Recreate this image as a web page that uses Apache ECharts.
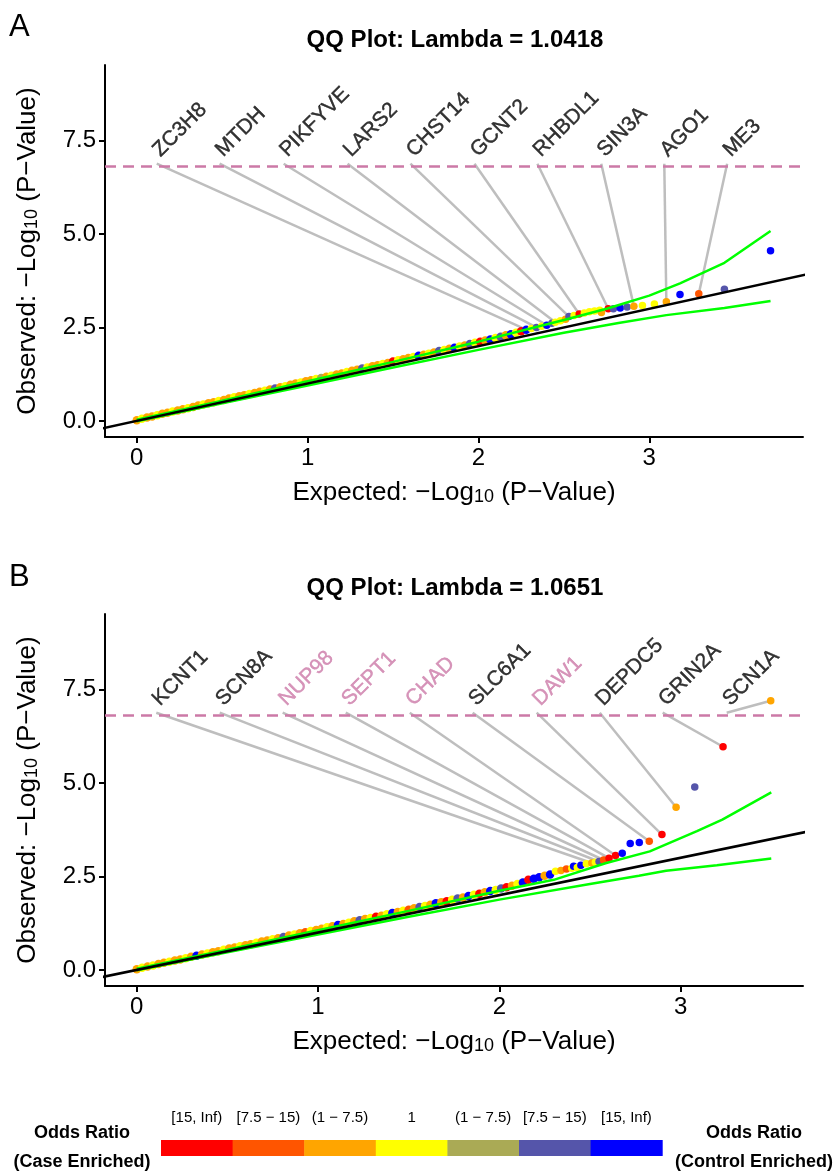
<!DOCTYPE html>
<html>
<head>
<meta charset="utf-8">
<script src="https://cdn.jsdelivr.net/npm/echarts@6/dist/echarts.min.js"></script>
<style>
  html, body { margin: 0; padding: 0; background: #fff; }
  #chart { width: 836px; height: 1174px; }
</style>
</head>
<body>
<div id="chart"></div>
<script>
const FONT = 'Liberation Sans, Arial, Helvetica, sans-serif';

// odds ratio bins (case enriched -> control enriched)
const orLabels = ['[15, Inf)', '[7.5 − 15)', '(1 − 7.5)', '1', '(1 − 7.5)', '[7.5 − 15)', '[15, Inf)'];
const orColors = ['#FF0000', '#FF5500', '#FFA500', '#FFFF00', '#AAAA55', '#5555AA', '#0000FF'];

const titleA = 'QQ Plot: Lambda = 1.0418';
const titleB = 'QQ Plot: Lambda = 1.0651';
const sigLine = 6.82;          // -log10 significance threshold
const xTicks = [0, 1, 2, 3];
const yTicks = [0, 2.5, 5, 7.5];
const diag = [-1, 5];          // y = x reference line ends

// panel A points: [expected, observed, OR bin]
const pointsA = [
  [0.00,0.02,2],[0.03,0.06,3],[0.06,0.09,2],[0.09,0.12,2],[0.12,0.15,3],[0.15,0.19,2],
  [0.18,0.22,2],[0.21,0.25,3],[0.24,0.28,2],[0.27,0.31,2],[0.30,0.34,3],[0.33,0.37,2],
  [0.36,0.41,2],[0.39,0.44,3],[0.42,0.47,2],[0.45,0.50,2],[0.48,0.53,3],[0.51,0.56,2],
  [0.54,0.60,2],[0.57,0.63,3],[0.60,0.66,2],[0.63,0.69,2],[0.66,0.72,3],[0.69,0.75,2],
  [0.72,0.78,2],[0.75,0.81,3],[0.78,0.84,2],[0.81,0.87,5],[0.84,0.90,2],[0.87,0.93,3],
  [0.90,0.97,2],[0.93,1.00,2],[0.96,1.03,3],[0.99,1.06,2],[1.02,1.09,2],[1.05,1.12,3],
  [1.08,1.15,4],[1.11,1.18,2],[1.14,1.21,3],[1.17,1.24,2],[1.20,1.27,2],[1.23,1.31,3],
  [1.26,1.34,2],[1.29,1.37,2],[1.32,1.40,5],[1.35,1.43,3],[1.38,1.46,2],[1.41,1.49,2],
  [1.44,1.52,3],[1.47,1.55,2],[1.50,1.59,0],[1.53,1.62,3],[1.56,1.65,2],[1.59,1.68,2],
  [1.62,1.71,3],[1.65,1.74,6],[1.68,1.77,2],[1.71,1.80,3],[1.74,1.83,2],[1.77,1.87,5],
  [1.80,1.90,3],[1.83,1.93,2],[1.86,1.96,6],[1.89,1.99,3],[1.92,2.02,2],[1.95,2.06,5],
  [1.98,2.09,3],[2.01,2.12,0],[2.04,2.15,2],[2.07,2.18,6],[2.10,2.22,3],[2.13,2.25,5],
  [2.16,2.29,2],[2.19,2.32,6],[2.22,2.36,3],[2.25,2.40,0],[2.28,2.44,6],
  [2.31,2.47,3],[2.34,2.50,5],[2.37,2.53,3],[2.40,2.56,6],[2.43,2.61,5],[2.45,2.64,3],
  [2.48,2.68,3],[2.51,2.72,2],[2.53,2.79,5],[2.56,2.82,3],[2.59,2.86,0],[2.62,2.89,3],
  [2.65,2.92,3],[2.68,2.94,3],[2.71,2.96,3],[2.72,2.90,2],[2.76,3.00,0],[2.79,3.00,5],
  [2.83,3.02,6],[2.87,3.05,5],[2.91,3.07,2],[2.96,3.09,3],[3.03,3.13,3],[3.10,3.19,2],
  [3.18,3.38,6],[3.29,3.40,1],[3.44,3.52,5],[3.71,4.55,6]
];

// panel B points: [expected, observed, OR bin]
const pointsB = [
  [0.00,0.02,2],[0.03,0.06,3],[0.06,0.09,2],[0.09,0.12,3],[0.12,0.16,2],[0.15,0.19,2],
  [0.18,0.22,3],[0.21,0.25,2],[0.24,0.28,2],[0.27,0.31,3],[0.30,0.35,2],[0.33,0.38,6],
  [0.36,0.41,2],[0.39,0.44,3],[0.42,0.47,2],[0.45,0.50,2],[0.48,0.54,3],[0.51,0.57,2],
  [0.54,0.60,2],[0.57,0.63,3],[0.60,0.66,2],[0.63,0.69,2],[0.66,0.73,3],[0.69,0.76,2],
  [0.72,0.79,2],[0.75,0.82,3],[0.78,0.85,2],[0.81,0.88,5],[0.84,0.92,2],[0.87,0.95,3],
  [0.90,0.98,2],[0.93,1.01,1],[0.96,1.04,3],[0.99,1.07,2],[1.02,1.10,2],[1.05,1.14,3],
  [1.08,1.17,2],[1.11,1.20,6],[1.14,1.23,2],[1.17,1.26,3],[1.20,1.30,2],[1.23,1.33,5],
  [1.26,1.36,2],[1.29,1.39,3],[1.32,1.42,0],[1.35,1.45,2],[1.38,1.49,3],[1.41,1.52,6],
  [1.44,1.55,2],[1.47,1.58,3],[1.50,1.61,1],[1.53,1.65,2],[1.56,1.68,5],[1.59,1.71,3],
  [1.62,1.74,2],[1.65,1.78,6],[1.68,1.81,2],[1.71,1.84,0],[1.74,1.88,3],[1.77,1.91,5],
  [1.80,1.94,2],[1.83,1.98,6],[1.86,2.01,3],[1.89,2.04,0],[1.92,2.08,2],[1.95,2.11,6],
  [1.98,2.14,3],[2.01,2.18,5],[2.04,2.21,0],[2.07,2.25,2],
  [2.10,2.30,3],[2.13,2.34,6],[2.16,2.41,0],[2.19,2.44,6],[2.22,2.48,6],[2.25,2.52,2],
  [2.28,2.55,6],[2.31,2.64,3],[2.34,2.66,2],[2.37,2.70,1],[2.40,2.72,3],[2.41,2.77,6],
  [2.43,2.74,3],[2.45,2.80,6],[2.48,2.84,3],[2.51,2.86,2],[2.53,2.88,3],[2.55,2.90,5],
  [2.575,2.94,1],[2.605,2.99,0],[2.641,3.06,0],[2.678,3.12,6],[2.722,3.38,6],[2.772,3.41,6],
  [2.827,3.44,1],[2.897,3.62,0],[2.975,4.35,2],[3.078,4.89,5],[3.234,5.97,0],[3.497,7.20,2]
];

// 95% confidence band
const upperAx = [0, 0.5, 1.0, 1.5, 2.0, 2.5, 2.75, 3.0, 3.18, 3.44, 3.71];
const upperAy = [0.03, 0.54, 1.06, 1.58, 2.12, 2.70, 3.0, 3.35, 3.68, 4.23, 5.08];
const lowerAx = [0, 0.5, 1.0, 1.5, 2.0, 2.5, 2.82, 3.10, 3.44, 3.71];
const lowerAy = [-0.01, 0.47, 0.95, 1.43, 1.90, 2.36, 2.62, 2.83, 3.02, 3.21];
const upperBx = [0, 0.5, 1.0, 1.5, 2.0, 2.3, 2.59, 2.83, 3.09, 3.23, 3.5];
const upperBy = [0.03, 0.54, 1.06, 1.58, 2.12, 2.41, 2.86, 3.17, 3.71, 4.02, 4.75];
const lowerBx = [0, 0.5, 1.0, 1.5, 2.0, 2.5, 2.77, 2.92, 3.2, 3.5];
const lowerBy = [-0.01, 0.47, 0.95, 1.42, 1.88, 2.30, 2.52, 2.65, 2.80, 2.98];

// gene labels
const labelRow = 6.88;
const genesA = ['ZC3H8', 'MTDH', 'PIKFYVE', 'LARS2', 'CHST14', 'GCNT2', 'RHBDL1', 'SIN3A', 'AGO1', 'ME3'];
const labelXA = [0.117, 0.485, 0.860, 1.234, 1.602, 1.977, 2.345, 2.719, 3.088, 3.456];
const targetXA = [2.28, 2.34, 2.40, 2.45, 2.53, 2.59, 2.76, 2.91, 3.10, 3.29];
const targetYA = [2.44, 2.50, 2.56, 2.64, 2.79, 2.86, 3.00, 3.07, 3.19, 3.40];
const pinkA = [0, 0, 0, 0, 0, 0, 0, 0, 0, 0];

const genesB = ['KCNT1', 'SCN8A', 'NUP98', 'SEPT1', 'CHAD', 'SLC6A1', 'DAW1', 'DEPDC5', 'GRIN2A', 'SCN1A'];
const labelXB = [0.108, 0.458, 0.805, 1.153, 1.506, 1.853, 2.206, 2.554, 2.901, 3.254];
const targetXB = [2.51, 2.548, 2.575, 2.605, 2.641, 2.827, 2.897, 2.975, 3.234, 3.497];
const targetYB = [2.86, 2.90, 2.94, 2.99, 3.06, 3.44, 3.62, 4.35, 5.97, 7.20];
const pinkB = [0, 0, 1, 1, 1, 0, 1, 0, 0, 0];

const PINK = '#CC79A7';
const zip = (xs, ys) => xs.map((x, i) => [x, ys[i]]);

const chart = echarts.init(document.getElementById('chart'));

const nameRich = {
  n: { fontSize: 26, fontFamily: FONT, color: '#000' },
  s: { fontSize: 18, fontFamily: FONT, color: '#000', verticalAlign: 'bottom', lineHeight: 6 }
};

function xAxisOf(gi, min, max) {
  return {
    gridIndex: gi, type: 'value', min: min, max: max,
    name: '{n|Expected: −Log}{s|10}{n| (P−Value)}',
    nameLocation: 'middle', nameGap: 43,
    nameTextStyle: { rich: nameRich },
    axisLine: { onZero: false, lineStyle: { color: '#000', width: 2 } },
    axisTick: { customValues: xTicks, length: 6, lineStyle: { color: '#000', width: 2 } },
    axisLabel: { customValues: xTicks, fontSize: 24, fontFamily: FONT, color: '#000', margin: 9 },
    splitLine: { show: false }
  };
}

function yAxisOf(gi) {
  return {
    gridIndex: gi, type: 'value', min: -0.43, max: 9.52,
    name: '{n|Observed: −Log}{s|10}{n| (P−Value)}',
    nameLocation: 'middle', nameGap: 64,
    nameTextStyle: { rich: nameRich },
    axisLine: { onZero: false, lineStyle: { color: '#000', width: 2 } },
    axisTick: { customValues: yTicks, length: 6, lineStyle: { color: '#000', width: 2 } },
    axisLabel: {
      customValues: yTicks, fontSize: 24, fontFamily: FONT, color: '#000', margin: 9,
      formatter: v => v.toFixed(1)
    },
    splitLine: { show: false }
  };
}

function panelSeries(gi, points, up, low, genes, labelX, targetX, targetY, pink) {
  return [
    {
      type: 'lines', coordinateSystem: 'cartesian2d', xAxisIndex: gi, yAxisIndex: gi,
      data: genes.map((g, i) => ({ coords: [[labelX[i], labelRow], [targetX[i], targetY[i]]] })),
      lineStyle: { color: '#BEBEBE', width: 2.5, opacity: 1 }, z: 1, silent: true
    },
    {
      type: 'scatter', xAxisIndex: gi, yAxisIndex: gi, data: points,
      symbolSize: v => (v[0] < 2.3 ? 8.5 : 7.5),
      itemStyle: { color: p => orColors[p.value[2]], opacity: 1 }, z: 2, silent: true
    },
    {
      type: 'line', xAxisIndex: gi, yAxisIndex: gi, data: up, showSymbol: false,
      lineStyle: { color: '#00FF00', width: 2.5 }, z: 3, silent: true
    },
    {
      type: 'line', xAxisIndex: gi, yAxisIndex: gi, data: low, showSymbol: false,
      lineStyle: { color: '#00FF00', width: 2.5 }, z: 3, silent: true
    },
    {
      type: 'line', xAxisIndex: gi, yAxisIndex: gi, data: zip(diag, diag), showSymbol: false,
      lineStyle: { color: '#000', width: 2.5 }, z: 4, silent: true,
      markLine: {
        silent: true, symbol: ['none', 'none'], label: { show: false },
        lineStyle: { color: PINK, type: [11, 7], width: 2.5 },
        data: [{ yAxis: sigLine }]
      }
    },
    {
      type: 'scatter', xAxisIndex: gi, yAxisIndex: gi, symbolSize: 1, z: 5, silent: true,
      itemStyle: { color: 'rgba(0,0,0,0)' },
      data: genes.map((g, i) => {
        const c = pink[i] ? PINK : '#000';
        return { name: g, value: [labelX[i], labelRow], label: { color: c, textBorderColor: c } };
      }),
      label: {
        show: true, formatter: '{b}', position: 'inside', align: 'left', verticalAlign: 'bottom',
        rotate: 45, fontSize: 21, fontFamily: FONT, color: '#000',
        textBorderWidth: 0.4, textBorderColor: '#000', offset: [7, 3]
      }
    }
  ];
}

// legend pieces
const legX0 = 161, legW = 71.6, legY = 1140, legH = 16;
const legend = [];
orColors.forEach((c, i) => {
  legend.push({ type: 'rect', shape: { x: legX0 + i * legW, y: legY, width: legW + 0.5, height: legH }, style: { fill: c } });
  legend.push({ type: 'text', x: legX0 + (i + 0.5) * legW, y: 1118,
    style: { text: orLabels[i], fontSize: 15, fontFamily: FONT, fill: '#000', align: 'center', verticalAlign: 'middle' } });
});
const boldText = (t, x, y, size) => ({ type: 'text', x: x, y: y,
  style: { text: t, fontSize: size, fontWeight: 'bold', fontFamily: FONT, fill: '#000', align: 'center', verticalAlign: 'middle' } });

chart.setOption({
  backgroundColor: '#fff',
  animation: false,
  grid: [
    { left: 105, right: 33, top: 65, height: 372 },
    { left: 105, right: 33, top: 614, height: 372 }
  ],
  xAxis: [xAxisOf(0, -0.186, 3.9), xAxisOf(1, -0.175, 3.675)],
  yAxis: [yAxisOf(0), yAxisOf(1)],
  series: [
    ...panelSeries(0, pointsA, zip(upperAx, upperAy), zip(lowerAx, lowerAy), genesA, labelXA, targetXA, targetYA, pinkA),
    ...panelSeries(1, pointsB, zip(upperBx, upperBy), zip(lowerBx, lowerBy), genesB, labelXB, targetXB, targetYB, pinkB)
  ],
  graphic: [
    { type: 'text', x: 9, y: 27, style: { text: 'A', fontSize: 31, fontFamily: FONT, fill: '#000', align: 'left', verticalAlign: 'middle' } },
    { type: 'text', x: 9, y: 577, style: { text: 'B', fontSize: 31, fontFamily: FONT, fill: '#000', align: 'left', verticalAlign: 'middle' } },
    boldText(titleA, 455, 40, 24),
    boldText(titleB, 455, 588, 24),
    boldText('Odds Ratio', 82, 1133, 18),
    boldText('(Case Enriched)', 82, 1162, 18),
    boldText('Odds Ratio', 754, 1133, 18),
    boldText('(Control Enriched)', 754, 1162, 18),
    ...legend
  ]
});
</script>
</body>
</html>
